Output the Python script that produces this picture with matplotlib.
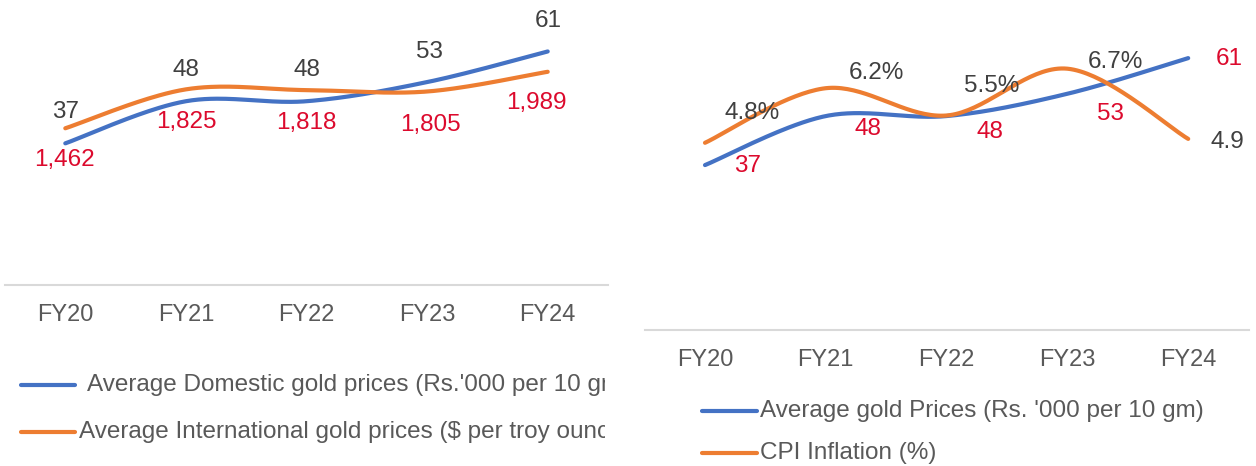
import numpy as np
import matplotlib.pyplot as plt
from matplotlib.lines import Line2D
from matplotlib.transforms import Bbox, TransformedBbox

years = ['FY20', 'FY21', 'FY22', 'FY23', 'FY24']
domestic_gold = [37, 48, 48, 53, 61]          # Rs.'000 per 10 gm
intl_gold = [1462, 1825, 1818, 1805, 1989]    # $ per troy ounce
cpi_inflation = [4.8, 6.2, 5.5, 6.7, 4.9]     # %

BLUE = '#4472C4'
ORANGE = '#ED7D31'
DARK = '#404040'
RED = '#DC0A2D'
AXIS = '#D9D9D9'
TICK = '#595959'
FS = 17.5

plt.rcParams['font.family'] = ['Liberation Sans', 'DejaVu Sans']

W, H = 1256, 466


def smooth(y, steps=40):
    # smoothed line: Bezier segments with Catmull-Rom style control points
    pts = np.column_stack([np.arange(len(y), dtype=float), np.asarray(y, dtype=float)])
    n = len(pts)
    t = np.linspace(0, 1, steps)[:, None]
    out = []
    for i in range(n - 1):
        p0, p1 = pts[max(i - 1, 0)], pts[i]
        p2, p3 = pts[i + 1], pts[min(i + 2, n - 1)]
        c1 = p1 + (p2 - p0) / 6
        c2 = p2 - (p3 - p1) / 6
        seg = (1 - t) ** 3 * p1 + 3 * (1 - t) ** 2 * t * c1 + 3 * (1 - t) * t ** 2 * c2 + t ** 3 * p2
        out.append(seg if i == 0 else seg[1:])
    out = np.vstack(out)
    return out[:, 0], out[:, 1]


def make_axes(rect, ymax, pad):
    ax = fig.add_axes(rect)
    ax.set_xlim(-0.5, len(years) - 0.5)
    ax.set_ylim(0, ymax)
    for side in ['top', 'left', 'right']:
        ax.spines[side].set_visible(False)
    ax.spines['bottom'].set_color(AXIS)
    ax.spines['bottom'].set_linewidth(1.5)
    ax.set_yticks([])
    ax.set_xticks(range(len(years)))
    ax.set_xticklabels(years)
    ax.tick_params(axis='x', length=0, pad=pad, labelsize=17, labelcolor=TICK)
    ax.patch.set_visible(False)
    return ax


def twin(ax, ymax):
    ax2 = ax.twinx()
    ax2.set_ylim(0, ymax)
    for s in ax2.spines.values():
        s.set_visible(False)
    ax2.set_yticks([])
    return ax2


def labels(ax, values, texts, offsets, color):
    for i, (v, s, (dx, dy)) in enumerate(zip(values, texts, offsets)):
        ax.annotate(s, (i, v), xytext=(dx, dy), textcoords='offset pixels',
                    ha='center', va='center', fontsize=FS, color=color)


def legend_entry(x0, x1, y, text, color, tx, clip_right):
    fy = 1 - y / H
    fig.add_artist(Line2D([x0 / W, x1 / W], [fy, fy], transform=fig.transFigure,
                          color=color, lw=3, solid_capstyle='round'))
    t = fig.text(tx / W, fy, text, ha='left', va='center', fontsize=FS,
                 color=TICK, parse_math=False)
    t.set_clip_on(True)
    t.set_clip_box(TransformedBbox(Bbox([[0, 0], [clip_right / W, 1]]), fig.transFigure))


fig = plt.figure(figsize=(W / 100, H / 100), dpi=100)

# left panel: domestic vs international gold prices
axL = make_axes([5 / W, (H - 285) / H, 603 / W, 268 / H], 70, 14)
axL2 = twin(axL, 2500)
x, y = smooth(domestic_gold)
axL.plot(x, y, color=BLUE, lw=3, solid_capstyle='round')
x, y = smooth(intl_gold)
axL2.plot(x, y, color=ORANGE, lw=3, solid_capstyle='round')
labels(axL, domestic_gold, [str(v) for v in domestic_gold],
       [(0, 31), (0, 31), (0, 31), (2, 30), (1, 30)], DARK)
labels(axL2, intl_gold, [f'{v:,}' for v in intl_gold],
       [(-1, -32), (0, -33), (0, -33), (3, -33), (-11, -31)], RED)

legend_entry(21, 75, 385, "Average Domestic gold prices (Rs.'000 per 10 gm)", BLUE, 87, 605)
legend_entry(21, 75, 432, "Average International gold prices ($ per troy ounce)", ORANGE, 79, 605)

# right panel: gold prices vs CPI inflation
axR = make_axes([644.6 / W, (H - 330) / H, 604 / W, 312 / H], 70, 14)
axR2 = twin(axR, 8)
x, y = smooth(domestic_gold)
axR.plot(x, y, color=BLUE, lw=3, solid_capstyle='round')
x, y = smooth(cpi_inflation)
axR2.plot(x, y, color=ORANGE, lw=3, solid_capstyle='round')
labels(axR, domestic_gold, [str(v) for v in domestic_gold],
       [(43, -1), (42, -13), (43, -16), (43, -20), (41, -1)], RED)
labels(axR2, cpi_inflation, ['4.8%', '6.2%', '5.5%', '6.7%', '4.9'],
       [(47, 30), (51, 15), (45, 30), (48, 7), (39, -3)], DARK)

legend_entry(702, 757, 411, "Average gold Prices (Rs. '000 per 10 gm)", BLUE, 760, W)
legend_entry(702, 757, 453, "CPI Inflation (%)", ORANGE, 760, W)

fig.savefig('out.png', dpi=100)
